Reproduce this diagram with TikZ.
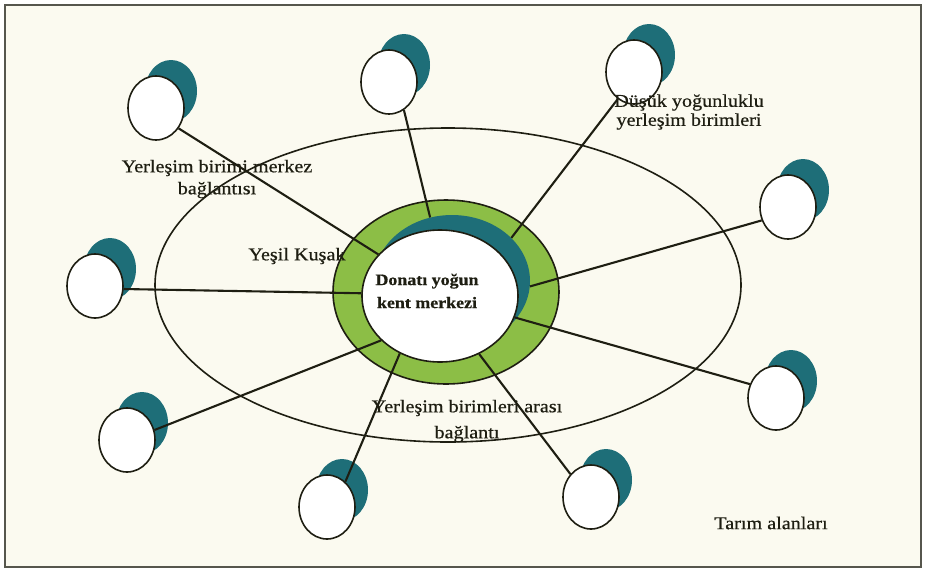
\documentclass[tikz,border=0pt]{standalone}
\usepackage{fontspec}
\setmainfont{Liberation Serif}[FakeStretch=1.12, FakeBold=0.6]
\usetikzlibrary{shapes.geometric}
\definecolor{bgc}{HTML}{FBFAF0}
\definecolor{tealc}{HTML}{1E6E78}
\definecolor{ringc}{HTML}{8CBE46}
\definecolor{ink}{HTML}{1E1E12}
\begin{document}
\begin{tikzpicture}[x=1pt,y=-1pt,
  sat/.style={ellipse, draw=ink, line width=1.6pt, fill=white, minimum width=56pt, minimum height=64pt, inner sep=0pt},
  shadow/.style={ellipse, fill=tealc, minimum width=52pt, minimum height=62pt, inner sep=0pt},
  conn/.style={draw=ink, line width=2.1pt},
  lbl/.style={text=ink, font=\fontsize{18}{22}\selectfont, align=center, inner sep=0pt},
]
\useasboundingbox (0,0) rectangle (929,571);
\fill[white] (0,0) rectangle (929,571);
\draw[fill=bgc, draw=ink!75, line width=1.6pt] (5,5) rectangle (921,567);
% outer zone
\node[ellipse, draw=ink, line width=1.6pt, minimum width=586pt, minimum height=314pt, inner sep=0pt] (zone) at (448,285) {};
% green belt
\node[ellipse, draw=ink, fill=ringc, line width=1.6pt, minimum width=226pt, minimum height=184pt, inner sep=0pt] (belt) at (446,292) {};
\node[ellipse, fill=tealc, minimum width=156pt, minimum height=132pt, inner sep=0pt] (ct) at (452,281) {};
\node[ellipse, draw=ink, fill=white, line width=1.6pt, minimum width=156pt, minimum height=132pt, inner sep=0pt] (c) at (440,296) {};
% satellites
\foreach \n/\x/\y in {1/156/108, 2/389/82, 3/634/72, 4/788/207, 5/95/286, 6/776/398, 7/127/440, 8/327/507, 9/591/497} {
  \node[shadow] (t\n) at (\x+15,\y-17) {};
  \node[sat] (s\n) at (\x,\y) {};
}
% connectors
\draw[conn] (s1.-42) -- (c.146);
\draw[conn] (s2.-62) -- (ct.109);
\draw[conn] (s3.-121) -- (ct.36);
\draw[conn] (s4.-153) -- (ct.-4);
\draw[conn] (s5.-6) -- (c.178);
\draw[conn] (s6.152) -- (c.-16);
\draw[conn] (s7.20) -- (c.-143);
\draw[conn] (s8.54) -- (c.-125);
\draw[conn] (s9.132) -- (c.-56);
% labels
\node[text=ink, font=\bfseries\fontsize{16}{23}\selectfont, align=center, inner sep=0pt] (ctext) at (427,291) {Donatı yoğun\\kent merkezi};
\node[lbl] (l1) at (217,179) {Yerleşim birimi merkez\\bağlantısı};
\node[lbl] (l2) at (297,256) {Yeşil Kuşak};
\node[lbl, font=\fontsize{18}{19}\selectfont] (l3) at (689,112) {Düşük yoğunluklu\\yerleşim birimleri};
\node[lbl, font=\fontsize{18}{26}\selectfont] (l4) at (467,421) {Yerleşim birimleri arası\\bağlantı};
\node[lbl] (l5) at (771,523) {Tarım alanları};
\end{tikzpicture}
\end{document}
